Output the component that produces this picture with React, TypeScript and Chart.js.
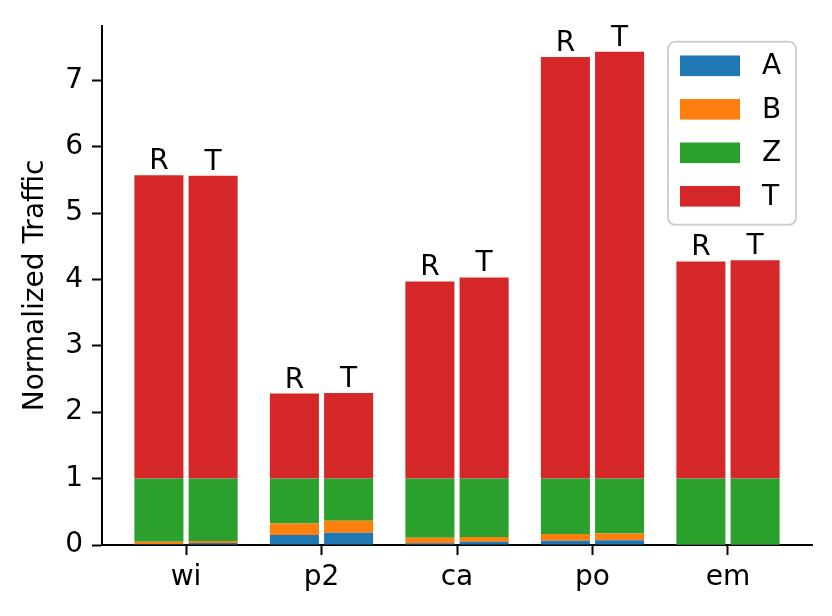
import React, { useEffect, useRef } from 'react';
import { Chart, registerables } from 'chart.js';

Chart.register(...registerables);

const categories = ['wi', 'p2', 'ca', 'po', 'em'];
const stacks = ['R', 'T'];
const yTicks = [0, 1, 2, 3, 4, 5, 6, 7];

const seriesNames = ['A', 'B', 'Z', 'T'];
const seriesColors = ['#1f77b4', '#ff7f0e', '#2ca02c', '#d62728'];

// R bars
const aR = [0.015, 0.15, 0.025, 0.065, 0.002];
const bR = [0.035, 0.175, 0.085, 0.1, 0.003];
const zR = [0.95, 0.675, 0.89, 0.835, 0.995];
const tR = [4.57, 1.28, 2.97, 6.35, 3.27];

// T bars
const aT = [0.03, 0.185, 0.05, 0.07, 0.002];
const bT = [0.03, 0.18, 0.07, 0.105, 0.003];
const zT = [0.94, 0.635, 0.88, 0.825, 0.995];
const tT = [4.56, 1.29, 3.03, 6.43, 3.29];

const FAMILY = '"DejaVu Sans", sans-serif';
const FONT = 28;

const toPoints = (vals: number[]) => vals.map((y, i) => ({ x: i, y }));

// "R" / "T" over the top of each bar
const barLabels = {
  id: 'barLabels',
  afterDatasetsDraw(chart: any) {
    const ctx = chart.ctx;
    ctx.save();
    ctx.font = `${FONT}px ${FAMILY}`;
    ctx.fillStyle = '#000';
    ctx.textAlign = 'center';
    ctx.textBaseline = 'alphabetic';
    stacks.forEach((s) => {
      const idx = chart.data.datasets.findLastIndex((d: any) => d.stack === s);
      const meta = chart.getDatasetMeta(idx);
      meta.data.forEach((el: any) => ctx.fillText(s, el.x, el.y - 6));
    });
    ctx.restore();
  },
};

// matplotlib-like framed legend in the upper right of the plot
const boxLegend = {
  id: 'boxLegend',
  afterDraw(chart: any) {
    const { ctx, chartArea } = chart;
    const w = 128;
    const h = 183;
    const x0 = chartArea.right - 16 - w;
    const y0 = chartArea.top + 16;
    ctx.save();
    ctx.beginPath();
    ctx.roundRect(x0, y0, w, h, 7);
    ctx.fillStyle = 'rgba(255,255,255,0.8)';
    ctx.fill();
    ctx.strokeStyle = '#d0d0d0';
    ctx.lineWidth = 2;
    ctx.stroke();
    ctx.font = `${FONT}px ${FAMILY}`;
    ctx.textAlign = 'left';
    ctx.textBaseline = 'middle';
    seriesNames.forEach((name, i) => {
      const cy = y0 + 24 + i * 43.5;
      ctx.fillStyle = seriesColors[i];
      ctx.fillRect(x0 + 12, cy - 10.3, 60, 20.6);
      ctx.fillStyle = '#000';
      ctx.fillText(name, x0 + 94, cy + 1);
    });
    ctx.restore();
  },
};

const App: React.FC = () => {
  const canvasRef = useRef<HTMLCanvasElement>(null);

  useEffect(() => {
    if (!canvasRef.current) return;
    const rSeries = [aR, bR, zR, tR];
    const tSeries = [aT, bT, zT, tT];
    const datasets: any[] = [];
    [rSeries, tSeries].forEach((series, si) => {
      series.forEach((vals, k) => {
        datasets.push({
          label: `${seriesNames[k]} ${stacks[si]}`,
          data: toPoints(vals),
          stack: stacks[si],
          backgroundColor: seriesColors[k],
          borderWidth: 0,
          categoryPercentage: 0.8,
          barPercentage: 0.905,
        });
      });
    });

    const chart = new Chart(canvasRef.current, {
      type: 'bar',
      data: { datasets },
      options: {
        animation: false,
        responsive: false,
        devicePixelRatio: 1,
        layout: { padding: { top: 24, right: 20, left: 0, bottom: 0 } },
        plugins: {
          legend: { display: false },
          tooltip: { enabled: false },
        },
        scales: {
          x: {
            type: 'linear',
            min: -0.62,
            max: 4.62,
            offset: false,
            afterBuildTicks: (s: any) => {
              s.ticks = categories.map((_, i) => ({ value: i }));
            },
            afterFit: (s: any) => {
              s.height = 71;
            },
            border: { display: true, color: '#000', width: 2 },
            grid: {
              offset: false,
              drawOnChartArea: false,
              drawTicks: true,
              tickLength: 10,
              tickWidth: 2,
              tickColor: '#000',
            },
            ticks: {
              color: '#000',
              font: { family: FAMILY, size: FONT },
              padding: 6,
              autoSkip: false,
              maxRotation: 0,
              callback: (v: any) => categories[Number(v)],
            },
          },
          y: {
            stacked: true,
            min: 0,
            max: 7.82,
            afterBuildTicks: (s: any) => {
              s.ticks = yTicks.map((v) => ({ value: v }));
            },
            afterFit: (s: any) => {
              s.width = 102;
            },
            border: { display: true, color: '#000', width: 2 },
            grid: {
              drawOnChartArea: false,
              drawTicks: true,
              tickLength: 10,
              tickWidth: 2,
              tickColor: '#000',
            },
            ticks: {
              color: '#000',
              font: { family: FAMILY, size: FONT },
              padding: 9,
            },
            title: {
              display: true,
              text: 'Normalized Traffic',
              color: '#000',
              font: { family: FAMILY, size: FONT },
              padding: { top: 19, bottom: 0 },
            },
          },
        },
      },
      plugins: [barLabels, boxLegend],
    });

    return () => chart.destroy();
  }, []);

  return (
    <div style={{ position: 'absolute', left: 0, top: 0, width: 832, height: 616, background: '#fff' }}>
      <canvas ref={canvasRef} width={832} height={616} />
    </div>
  );
};

export default App;
